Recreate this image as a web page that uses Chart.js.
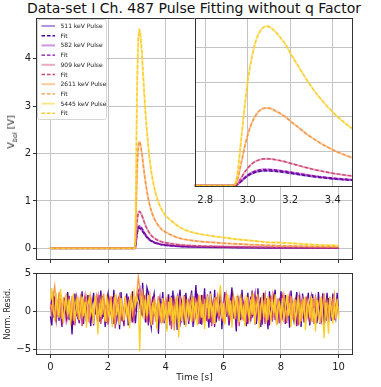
<!DOCTYPE html>
<html>
<head>
<meta charset="utf-8">
<title>Pulse fitting</title>
<script src="https://cdn.jsdelivr.net/npm/chart.js@4.4.1/dist/chart.umd.min.js"></script>
<style>
  html, body { margin: 0; padding: 0; background: #fff; }
  #wrap { position: relative; width: 381px; height: 387px; overflow: hidden; font-family: "DejaVu Sans", sans-serif; }
  .box { position: absolute; }
  #title { position: absolute; left: 0; top: 0; width: 388px; text-align: center; white-space: nowrap; font-size: 14px; line-height: 17px; color: #111; }
  #ylab { position: absolute; left: 11.5px; top: 132px; transform: translate(-50%, -50%) rotate(-90deg); white-space: nowrap; font-size: 9.5px; color: #222; }
  #ylab sub { font-size: 6.5px; font-style: italic; }
</style>
</head>
<body>
<div id="wrap">
  <div id="title">Data-set I Ch. 487 Pulse Fitting without q Factor</div>
  <div class="box" style="left:0;top:0;width:381px;height:270px"><canvas id="main-chart"></canvas></div>
  <div class="box" style="left:0;top:262px;width:381px;height:125px"><canvas id="resid-chart"></canvas></div>
  <div class="box" style="left:190px;top:14px;width:170px;height:196px"><canvas id="inset-chart"></canvas></div>
  <div id="ylab">V<sub>bol</sub> [V]</div>
</div>
<script>
// --- data ---
const energies = [511, 582, 909, 2611, 5445];

// sample times of the pulses [s]
const pulseTime = [0, 0.5, 1, 1.5, 2, 2.5, 2.9, 2.93,
    2.95, 2.97, 2.99, 3.01, 3.03, 3.05, 3.07, 3.09, 3.11, 3.13, 3.15,
    3.18, 3.21, 3.24, 3.27, 3.3, 3.34, 3.38, 3.42, 3.46, 3.5,
    3.6, 3.7, 3.85, 4.0, 4.2, 4.5, 4.8, 5.2, 5.6, 6.0, 6.5, 7, 7.5, 8, 9, 10];

// V_bol [V] (pulse and fit lie on top of each other)
const pulse511 = [0, 0, 0, 0, 0, 0, 0, 0,
    0.026, 0.129, 0.237, 0.318, 0.374, 0.409, 0.426, 0.43, 0.426, 0.415, 0.402,
    0.378, 0.348, 0.32, 0.292, 0.267, 0.237, 0.211, 0.187, 0.168, 0.151,
    0.12, 0.099, 0.077, 0.065, 0.054, 0.041, 0.034, 0.028, 0.024, 0.021, 0.018, 0.015, 0.012, 0.011, 0.008, 0.006];
const pulse582 = [0, 0, 0, 0, 0, 0, 0, 0,
    0.028, 0.141, 0.259, 0.348, 0.409, 0.447, 0.465, 0.47, 0.465, 0.454, 0.439,
    0.414, 0.381, 0.35, 0.32, 0.291, 0.259, 0.23, 0.204, 0.183, 0.165,
    0.132, 0.108, 0.085, 0.071, 0.059, 0.045, 0.037, 0.03, 0.026, 0.023, 0.019, 0.016, 0.014, 0.012, 0.008, 0.006];
const pulse909 = [0, 0, 0, 0, 0, 0, 0, 0,
    0.047, 0.234, 0.43, 0.577, 0.68, 0.74, 0.77, 0.78, 0.77, 0.753, 0.73,
    0.686, 0.632, 0.581, 0.53, 0.484, 0.429, 0.382, 0.339, 0.304, 0.273,
    0.218, 0.179, 0.14, 0.117, 0.098, 0.074, 0.061, 0.05, 0.044, 0.038, 0.032, 0.027, 0.023, 0.02, 0.014, 0.01];
const pulse2611 = [0, 0, 0, 0, 0, 0, 0, 0,
    0.135, 0.675, 1.24, 1.665, 1.96, 2.14, 2.23, 2.25, 2.23, 2.17, 2.10,
    1.98, 1.82, 1.68, 1.53, 1.395, 1.24, 1.10, 0.98, 0.88, 0.79,
    0.63, 0.52, 0.405, 0.34, 0.28, 0.21, 0.175, 0.144, 0.126, 0.11, 0.092, 0.077, 0.065, 0.056, 0.041, 0.029];
const pulse5445 = [0, 0, 0, 0, 0, 0, 0, 0,
    0.28, 1.39, 2.54, 3.42, 4.02, 4.39, 4.57, 4.62, 4.57, 4.46, 4.32,
    4.07, 3.74, 3.44, 3.14, 2.86, 2.54, 2.26, 2.01, 1.80, 1.62,
    1.29, 1.06, 0.83, 0.69, 0.58, 0.44, 0.36, 0.30, 0.26, 0.23, 0.19, 0.16, 0.13, 0.12, 0.08, 0.06];
const pulses = [pulse511, pulse582, pulse909, pulse2611, pulse5445];

// residual sample times [s], one row per second
const residTime = [
    0, 0.05, 0.1, 0.15, 0.2, 0.25, 0.3, 0.35, 0.4, 0.45, 0.5, 0.55, 0.6, 0.65, 0.7, 0.75, 0.8, 0.85, 0.9, 0.95,
    1, 1.05, 1.1, 1.15, 1.2, 1.25, 1.3, 1.35, 1.4, 1.45, 1.5, 1.55, 1.6, 1.65, 1.7, 1.75, 1.8, 1.85, 1.9, 1.95,
    2, 2.05, 2.1, 2.15, 2.2, 2.25, 2.3, 2.35, 2.4, 2.45, 2.5, 2.55, 2.6, 2.65, 2.7, 2.75, 2.8, 2.85, 2.9, 2.95,
    3, 3.05, 3.1, 3.15, 3.2, 3.25, 3.3, 3.35, 3.4, 3.45, 3.5, 3.55, 3.6, 3.65, 3.7, 3.75, 3.8, 3.85, 3.9, 3.95,
    4, 4.05, 4.1, 4.15, 4.2, 4.25, 4.3, 4.35, 4.4, 4.45, 4.5, 4.55, 4.6, 4.65, 4.7, 4.75, 4.8, 4.85, 4.9, 4.95,
    5, 5.05, 5.1, 5.15, 5.2, 5.25, 5.3, 5.35, 5.4, 5.45, 5.5, 5.55, 5.6, 5.65, 5.7, 5.75, 5.8, 5.85, 5.9, 5.95,
    6, 6.05, 6.1, 6.15, 6.2, 6.25, 6.3, 6.35, 6.4, 6.45, 6.5, 6.55, 6.6, 6.65, 6.7, 6.75, 6.8, 6.85, 6.9, 6.95,
    7, 7.05, 7.1, 7.15, 7.2, 7.25, 7.3, 7.35, 7.4, 7.45, 7.5, 7.55, 7.6, 7.65, 7.7, 7.75, 7.8, 7.85, 7.9, 7.95,
    8, 8.05, 8.1, 8.15, 8.2, 8.25, 8.3, 8.35, 8.4, 8.45, 8.5, 8.55, 8.6, 8.65, 8.7, 8.75, 8.8, 8.85, 8.9, 8.95,
    9, 9.05, 9.1, 9.15, 9.2, 9.25, 9.3, 9.35, 9.4, 9.45, 9.5, 9.55, 9.6, 9.65, 9.7, 9.75, 9.8, 9.85, 9.9, 9.95,
    10];

// normalised residuals
const resid511 = [
    -0.6, -1.8, 2.6, 0.4, -0.9, 1.1, -1.2, 2.3, 0.2, -0.7, 1.8, -0.3, 2.6, -1.1, 0.5, -3.0, 0.8, 2.4, -0.6, 1.0,
    -1.5, 0.3, 2.7, -0.8, 0.6, -1.3, 2.2, 0.1, -1.9, 0.9, 2.5, -0.4, 1.2, -1.7, 0.2, 2.8, -0.9, 0.7, -2.0, 1.4,
    2.4, -0.6, 0.8, -1.6, 2.9, 0.3, -1.0, 1.5, -2.3, 2.6, 0.0, -1.2, 1.1, 2.4, -1.8, 0.5, -0.7, 2.7, 0.2, -1.5,
    0.9, 2.1, 1.2, -0.5, 3.8, 0.6, -1.4, 3.2, 2.5, -0.8, -2.1, 1.3, 2.4, -0.6, 0.4, -2.9, 1.7, 0.3, 2.6, -1.3,
    0.7, -2.2, 2.3, 0.4, -1.0, 2.8, -0.5, 0.9, -2.4, 1.6, 2.9, -0.7, 0.2, -1.7, 2.5, 0.6, -1.1, 1.2, 2.8, -2.0,
    0.8, 3.5, -0.4, 1.0, -1.6, 2.2, 0.3, 3.1, -1.2, 0.5, -2.1, 2.7, 0.9, -0.8, 2.9, -1.4, 0.2, 1.6, 2.6, -2.3,
    0.6, -1.0, 2.4, 0.1, -1.8, 1.3, 3.2, -0.6, 0.7, -2.6, 2.1, 0.4, -1.1, 2.9, -0.3, 0.8, -1.9, 2.5, 0.2, -1.2,
    2.8, -0.5, 0.9, -1.6, 3.1, 0.3, -2.0, 1.1, 2.5, -0.8, 0.4, -2.3, 2.7, 0.6, -1.0, 1.4, 2.9, -1.7, 0.1, -0.9,
    2.7, 0.2, -1.3, 2.2, -0.6, 0.9, -2.1, 2.8, 0.4, -1.1, 1.2, 2.6, -0.9, 0.3, -2.0, 2.4, 0.7, -1.4, 1.0, 2.5,
    -1.8, 0.5, 2.3, -0.7, 1.1, -1.5, 2.6, 0.2, -1.0, 2.4, -1.8, 0.6, 2.5, -0.4, 0.9, -1.2, 2.4, 0.3, -0.8, 2.5,
    -0.3];
const resid582 = [
    0.4, 1.6, -0.8, 2.0, -1.3, 0.5, 1.8, -0.2, -2.0, 0.9, 1.5, -1.1, 0.3, 2.1, -0.6, 1.0, -1.7, 0.6, 1.9, -0.9,
    -1.2, 1.7, 0.4, -1.6, 2.0, -0.3, 0.8, 2.2, -1.0, 0.1, -1.8, 1.4, 0.6, 1.9, -1.3, 0.2, 2.1, -0.7, 0.9, -1.5,
    1.8, -0.4, 0.7, 2.0, -1.6, 0.3, -0.9, 1.6, 2.2, -1.2, 0.5, -1.9, 1.3, 0.2, 2.0, -0.8, 0.6, -1.4, 1.7, 0.4,
    1.2, 2.6, 3.2, 1.5, 0.2, 2.2, -1.0, 0.7, -1.8, 1.5, 0.3, 2.0, -0.6, 1.1, -2.1, 0.5, 1.8, -0.9, 0.4, -1.5,
    1.6, -0.3, 0.9, -1.8, 2.1, 0.5, -1.2, 0.8, 1.9, -0.6, -1.5, 1.3, 0.2, 2.2, -0.9, 0.6, -1.6, 1.4, 0.3, 2.0,
    -1.1, 0.7, 2.4, -0.5, 1.0, -1.7, 0.4, 1.8, -0.8, 2.3, 0.1, -1.4, 1.2, 0.6, -2.0, 1.9, -0.3, 0.8, 2.1, -1.2,
    0.5, 2.6, -0.7, 1.1, -1.5, 0.3, 2.0, -0.9, 0.6, -1.9, 1.7, 0.2, 2.2, -1.0, 0.9, -0.5, 1.5, -1.6, 0.4, 2.0,
    -0.8, 1.2, 2.4, -1.3, 0.6, -0.2, 1.9, -1.7, 0.8, 2.1, -0.6, 0.3, -1.8, 1.6, 0.7, 2.0, -1.1, 0.4, -0.9, 1.5,
    2.2, -0.5, 0.9, -1.6, 1.3, 0.2, 2.1, -1.2, 0.6, -0.3, 1.8, -1.9, 0.7, 2.0, -0.8, 1.1, -1.4, 0.3, 1.9, -0.6,
    0.9, 2.0, -1.3, 0.4, 1.7, -0.9, 0.2, -1.6, 1.4, 2.1, -0.7, 0.6, -1.2, 1.8, 0.3, -0.5, 2.1, -1.0, 0.8, 1.5,
    -0.6];
const resid909 = [
    0.8, -0.4, 1.7, 0.2, -1.3, 1.2, 2.0, -0.7, 0.9, -1.5, 1.4, 0.3, -0.8, 1.9, -1.2, 0.6, 1.1, -1.8, 0.4, 1.6,
    -0.6, 1.0, -1.9, 0.7, 2.1, -0.3, 0.5, -1.4, 1.6, 0.1, -1.0, 1.8, -0.5, 0.9, 2.2, -1.6, 0.3, 1.3, -0.9, 0.6,
    -1.7, 1.5, 0.2, -0.8, 1.9, -2.2, 0.7, 1.2, -0.4, 1.7, -1.3, 0.4, 2.0, -0.7, 0.8, -1.5, 1.6, 0.1, -1.1, 0.9,
    1.4, 2.6, 2.2, 0.8, -0.3, 1.5, 0.2, -1.4, 1.8, -0.6, 0.9, -1.7, 1.3, 0.3, -0.9, 2.0, -1.5, 0.6, 1.1, -1.2,
    0.5, 1.7, -0.8, 1.0, -2.3, 0.4, 1.6, -1.1, 0.7, -0.2, 2.1, -1.4, 0.3, 1.2, -1.8, 0.8, 1.5, -0.6, 0.2, -1.3,
    1.9, -0.5, 0.6, -1.6, 1.3, 0.2, 2.2, -0.9, 0.7, -1.3, 1.0, 0.4, -1.9, 1.6, -0.2, 0.9, 2.0, -1.2, 0.5, -0.7,
    1.4, -1.5, 0.3, 1.8, -0.8, 0.6, -1.2, 2.1, 0.2, -0.6, 1.3, -1.9, 0.9, 1.6, -0.4, 0.5, -1.4, 1.9, 0.1, -1.0,
    1.2, 0.4, -1.7, 2.0, -0.3, 0.8, -1.1, 1.5, 0.2, -1.6, 1.8, -0.5, 0.6, 2.1, -1.3, 0.3, 1.0, -0.8, 1.7, -1.5,
    0.6, 1.9, -0.7, 0.4, -1.5, 1.3, 2.2, -0.9, 0.5, -1.2, 1.6, 0.1, -1.8, 0.9, 1.4, -0.4, 0.7, -1.3, 2.0, 0.2,
    -1.0, 1.5, 0.3, -1.6, 1.9, -0.5, 0.8, 1.2, -1.4, 0.4, 2.0, -0.8, 0.5, -1.5, 1.3, 0.2, 1.7, -1.1, 0.6, 1.0,
    0.4];
const resid2611 = [
    1.0, 0.3, 2.2, 3.4, 0.9, -0.5, 2.6, 1.2, -1.0, 1.9, 0.4, 2.4, -0.7, 1.3, 0.2, 2.1, -1.2, 0.8, 1.7, -0.3,
    0.6, 2.3, -0.9, 1.1, -0.2, 1.8, 0.5, -1.3, 2.0, 0.7, -0.6, 1.5, 2.2, -1.1, 0.4, 1.6, -0.4, 2.4, 0.1, -1.4,
    1.3, 0.2, 2.1, -0.8, 1.0, -1.6, 1.7, 0.6, 2.3, -0.5, 0.8, -1.2, 1.9, 0.3, -0.9, 1.4, 2.2, -0.3, 0.7, 1.5,
    2.4, 4.6, 3.1, 1.4, 2.6, 0.6, 1.9, -0.4, 1.2, 2.3, -0.8, 0.9, 1.6, -1.3, 0.5, 2.0, -0.6, 1.1, -1.5, 0.8,
    1.7, -0.7, 0.4, 1.9, -1.2, 0.8, -2.5, 1.3, 0.2, -1.0, 1.6, 0.5, -0.6, 2.1, -1.4, 0.7, 1.2, -0.3, 1.8, 0.1,
    -1.1, 1.4, 0.6, 2.2, -0.5, 0.9, -1.3, 1.7, 0.3, 2.0, -0.8, 1.1, 0.4, -1.5, 1.9, 0.2, 2.3, -0.6, 1.0, 0.5,
    -1.3, 1.2, 2.4, 0.3, 1.6, -0.7, 0.8, 2.1, -1.0, 0.5, 1.8, -0.4, 2.3, 0.6, -1.2, 1.4, 0.1, 1.9, -0.8, 0.9,
    2.2, -0.5, 1.3, 0.2, 2.4, -1.4, 0.7, 1.6, -0.3, 2.0, 0.4, -1.1, 1.5, 0.8, 2.2, -0.6, 1.0, -1.5, 1.8, 0.3,
    -1.2, 1.1, 2.3, 0.5, -0.7, 1.7, 0.2, 2.1, -1.0, 0.9, 1.4, -0.4, 2.2, 0.6, -1.3, 1.5, 0.3, 2.0, -0.9, 1.2,
    0.6, -1.3, 1.8, 0.4, 2.1, -0.6, 1.0, 1.7, -0.4, 0.8, 2.4, -0.8, 1.3, 0.1, 2.0, -0.7, 1.1, 2.3, -0.5, 0.9,
    -0.3];
const resid5445 = [
    1.4, 3.1, 0.2, -1.2, 2.5, 0.6, -0.8, 3.0, 1.1, -1.5, 0.7, 2.2, -0.4, 1.6, -1.8, 0.9, 2.4, -0.9, 0.3, 1.8,
    -1.1, 0.5, 2.0, -0.6, 1.3, -2.1, 0.8, 1.9, -0.3, 0.6, -1.6, 2.1, 0.2, -3.0, 1.1, -0.7, 1.7, 0.4, -1.3, 2.2,
    0.1, -0.9, 1.5, -2.0, 0.7, 2.3, -0.5, 1.0, -1.7, 1.8, 0.3, -1.1, 2.0, -0.4, 0.9, -2.2, 1.4, 0.5, 2.6, 0.9,
    1.9, 1.2, -5.2, 2.0, 0.8, -1.0, 1.6, -0.6, 2.2, 0.4, -1.8, 1.2, -0.3, 0.9, -2.4, 1.5, 0.2, -1.1, 1.8, -0.7,
    0.6, -2.6, 1.3, -0.5, 1.9, -1.5, 0.4, -0.9, 2.1, -3.4, 0.8, -1.2, 1.5, 0.1, -2.0, 1.7, -0.6, 0.9, -1.4, 2.0,
    -0.3, 1.2, -1.8, 0.6, 2.2, -0.8, 1.0, -2.3, 0.5, 1.7, -1.0, 2.4, -0.2, 0.8, -1.6, 1.4, 0.3, 2.0, 3.5, -0.9,
    1.1, -1.7, 0.6, 2.3, -0.5, 1.5, -2.1, 0.9, -0.3, 2.1, 0.4, -1.4, 1.8, -0.7, 0.5, -1.9, 2.2, 0.2, -1.0, 1.6,
    -0.4, 2.4, -1.6, 0.7, 1.3, -2.2, 0.5, 1.9, -0.8, 1.0, -1.5, 2.1, 0.3, -1.1, 1.6, -0.2, 2.3, -1.8, 0.6, 1.2,
    -0.9, 1.8, -1.4, 0.4, 2.2, -0.6, 1.1, -2.0, 0.8, 1.5, -1.2, 0.2, 2.0, -1.7, 0.9, -0.4, 1.7, -2.4, 0.6, 1.4,
    -0.8, 2.1, -1.3, 0.5, -2.6, 1.6, 0.2, -1.5, 1.9, -0.7, -3.5, 1.2, -0.4, -2.9, 1.8, 0.3, -1.6, 1.3, -0.9, 1.7,
    -1.0];
const resids = [resid511, resid582, resid909, resid2611, resid5445];

// tick positions
const timeTicks = [0, 2, 4, 6, 8, 10];
const voltTicks = [0, 1, 2, 3, 4];
const insetTimeTicks = [2.8, 3.0, 3.2, 3.4];
const insetVoltTicks = [1, 2, 3, 4];
const residTicks = [-5, 0, 5];

// plasma colours
const fitColors = ['#4903a0', '#8606a6', '#cc4778', '#f89540', '#fcce25'];
const pulseColors = ['rgba(73,3,160,0.42)', 'rgba(134,6,166,0.42)', 'rgba(204,71,120,0.45)',
    'rgba(248,149,64,0.5)', 'rgba(252,206,37,0.5)'];

Chart.defaults.font.family = '"DejaVu Sans", sans-serif';
Chart.defaults.color = '#222';

const GRID = '#c4c4c4';
const pts = (xs, ys) => xs.map((x, i) => ({ x: x, y: ys[i] }));
const fixTicks = (vals) => (s) => { s.ticks = vals.map(v => ({ value: v })); };

// box round the plot area (+ optional white fill for the inset)
const framePlugin = {
    id: 'frame',
    beforeDraw(chart, args, opts) {
        if (!opts.fill) return;
        const a = chart.chartArea;
        chart.ctx.save();
        chart.ctx.fillStyle = opts.fill;
        chart.ctx.fillRect(a.left, a.top, a.right - a.left, a.bottom - a.top);
        chart.ctx.restore();
    },
    afterDraw(chart) {
        const a = chart.chartArea;
        const ctx = chart.ctx;
        ctx.save();
        ctx.strokeStyle = '#333';
        ctx.lineWidth = 1;
        ctx.strokeRect(Math.round(a.left) + 0.5, Math.round(a.top) + 0.5,
            Math.round(a.right - a.left) - 1, Math.round(a.bottom - a.top) - 1);
        ctx.restore();
    }
};

// legend drawn inside the upper-left corner of the main plot
const innerLegend = {
    id: 'innerLegend',
    afterDatasetsDraw(chart) {
        const ctx = chart.ctx;
        const x0 = 37.5, y0 = 19.5, w = 69, h = 100;
        ctx.save();
        ctx.fillStyle = 'rgba(255,255,255,0.92)';
        ctx.strokeStyle = '#d6d6d6';
        ctx.lineWidth = 1;
        ctx.beginPath();
        ctx.roundRect(x0, y0, w, h, 2);
        ctx.fill();
        ctx.stroke();
        ctx.font = '6px "DejaVu Sans"';
        ctx.textBaseline = 'middle';
        chart.data.datasets.forEach((ds, i) => {
            const y = 26 + i * 9.7;
            ctx.strokeStyle = ds.borderColor;
            ctx.lineWidth = ds.borderWidth;
            ctx.setLineDash(ds.borderDash || []);
            ctx.beginPath();
            ctx.moveTo(41.5, y);
            ctx.lineTo(55, y);
            ctx.stroke();
            ctx.setLineDash([]);
            ctx.fillStyle = '#222';
            ctx.fillText(ds.label, 60.5, y + 0.5);
        });
        ctx.restore();
    }
};

function pulseDatasets() {
    const out = [];
    energies.forEach((e, k) => {
        out.push({
            label: e + ' keV Pulse', data: pts(pulseTime, pulses[k]),
            borderColor: pulseColors[k], borderWidth: 2
        });
        out.push({
            label: 'Fit', data: pts(pulseTime, pulses[k]),
            borderColor: fitColors[k], borderWidth: 1.4, borderDash: [3.5, 2]
        });
    });
    // later series on top, like matplotlib
    return out.map((d, i) => Object.assign(d, {
        order: -i, pointRadius: 0, fill: false, cubicInterpolationMode: 'monotone'
    }));
}

const baseOpts = {
    responsive: true,
    maintainAspectRatio: false,
    animation: false,
    devicePixelRatio: 1,
    events: []
};

// main plot (title is the html line above it)
new Chart(document.getElementById('main-chart'), {
    type: 'line',
    data: { datasets: pulseDatasets() },
    plugins: [framePlugin, innerLegend],
    options: Object.assign({}, baseOpts, {
        layout: { padding: { left: 0, right: 28, top: 18, bottom: 0 } },
        plugins: { legend: { display: false }, tooltip: { enabled: false }, frame: {} },
        scales: {
            x: {
                type: 'linear', min: -0.5, max: 10.5,
                afterBuildTicks: fixTicks(timeTicks),
                ticks: { display: false },
                grid: { color: GRID, tickColor: '#333', tickLength: 3 },
                border: { display: false },
                afterFit: (s) => { s.height = 10; }
            },
            y: {
                type: 'linear', min: -0.246, max: 4.86,
                afterBuildTicks: fixTicks(voltTicks),
                ticks: { font: { size: 10 }, padding: 2 },
                grid: { color: GRID, tickColor: '#333', tickLength: 3 },
                border: { display: false },
                afterFit: (s) => { s.width = 36; }
            }
        }
    })
});

// zoom on the rising edge
new Chart(document.getElementById('inset-chart'), {
    type: 'line',
    data: { datasets: pulseDatasets() },
    plugins: [framePlugin],
    options: Object.assign({}, baseOpts, {
        layout: { padding: { left: 4, right: 7, top: 4, bottom: 0 } },
        plugins: { legend: { display: false }, tooltip: { enabled: false }, frame: { fill: '#fff' } },
        scales: {
            x: {
                type: 'linear', min: 2.75, max: 3.495,
                afterBuildTicks: fixTicks(insetTimeTicks),
                ticks: { font: { size: 10 }, padding: 7, maxRotation: 0, callback: (v) => v.toFixed(1) },
                grid: { color: GRID, drawTicks: false },
                border: { display: false },
                afterFit: (s) => { s.height = 23; }
            },
            y: {
                type: 'linear', min: -0.04, max: 4.86,
                afterBuildTicks: fixTicks(insetVoltTicks),
                ticks: { display: false },
                grid: { color: GRID, drawTicks: false },
                border: { display: false },
                afterFit: (s) => { s.width = 0; }
            }
        }
    })
});

// residuals
new Chart(document.getElementById('resid-chart'), {
    type: 'line',
    data: {
        datasets: energies.map((e, k) => ({
            label: e + ' keV', data: pts(residTime, resids[k]),
            borderColor: fitColors[k], borderWidth: 1.3, pointRadius: 0,
            fill: false, tension: 0, order: -k
        }))
    },
    plugins: [framePlugin],
    options: Object.assign({}, baseOpts, {
        layout: { padding: { left: 0, right: 28, top: 11, bottom: 0 } },
        plugins: { legend: { display: false }, tooltip: { enabled: false }, frame: {} },
        scales: {
            x: {
                type: 'linear', min: -0.5, max: 10.5,
                afterBuildTicks: fixTicks(timeTicks),
                ticks: { font: { size: 10 }, padding: 3, maxRotation: 0 },
                grid: { color: GRID, tickColor: '#333', tickLength: 3 },
                border: { display: false },
                title: { display: true, text: 'Time [s]', font: { size: 9 }, padding: { top: 0, bottom: 4 } },
                afterFit: (s) => { s.height = 32; }
            },
            y: {
                type: 'linear', min: -5.7, max: 5.1,
                afterBuildTicks: fixTicks(residTicks),
                ticks: { font: { size: 10 }, padding: 2, callback: (v) => (v < 0 ? '\u2212' + Math.abs(v) : String(v)) },
                grid: { color: GRID, tickColor: '#333', tickLength: 3 },
                border: { display: false },
                title: { display: true, text: 'Norm. Resid.', font: { size: 8 }, padding: { top: 3.5, bottom: 0 } },
                afterFit: (s) => { s.width = 36; }
            }
        }
    })
});
</script>
</body>
</html>
